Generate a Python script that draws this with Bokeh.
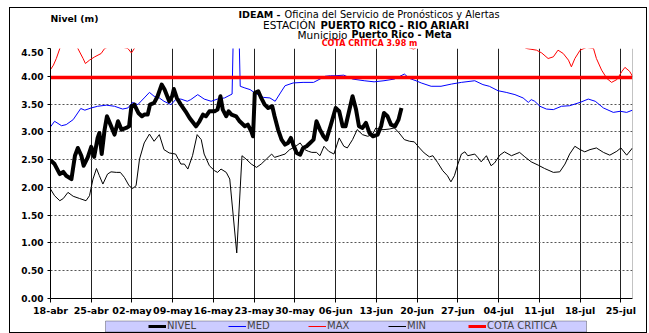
from bokeh.plotting import figure
from bokeh.layouts import column
from bokeh.models import (FixedTicker, NumeralTickFormatter, Label, Legend, LegendItem,
                          Span, Range1d, BoxAnnotation)
from bokeh.embed import file_html
from bokeh.resources import INLINE

# ---- data (x = days since 18-abr) ----
tick_days = [0, 7, 14, 21, 28, 35, 42, 49, 56, 63, 70, 77, 84, 91, 98]
tick_labels = ["18-abr", "25-abr", "02-may", "09-may", "16-may", "23-may", "30-may",
               "06-jun", "13-jun", "20-jun", "27-jun", "04-jul", "11-jul", "18-jul", "25-jul"]
y_ticks = [0.0, 0.5, 1.0, 1.5, 2.0, 2.5, 3.0, 3.5, 4.0, 4.5]

nivel_day = [0, 0.7, 1.6, 2.2, 2.7, 3.6, 4.2, 4.7, 5.3, 5.7, 6.4, 7.0, 7.5, 8.1, 8.4, 8.8, 9.3, 9.7,
             10.3, 11.0, 11.6, 12.2, 13.0, 13.5, 13.9, 14.4, 15.1, 15.7, 16.1, 16.7, 17.1, 17.8,
             18.4, 19.1, 19.6, 20.4, 20.9, 21.2, 21.7, 22.4, 23.2, 23.9, 25.0, 25.6, 26.2, 26.7,
             27.3, 28.2, 28.7, 29.2, 29.6, 30.2, 30.6, 31.1, 31.9, 32.5, 33.4, 33.9, 34.5, 34.8,
             35.1, 35.7, 36.2, 36.8, 37.4, 38.1, 38.5, 39.1, 39.7, 40.3, 40.8, 41.3, 41.7, 42.3,
             42.9, 43.4, 44.0, 44.6, 45.2, 45.7, 46.3, 46.9, 47.4, 48.1, 49.0, 49.6, 50.2, 50.7,
             51.3, 51.9, 52.5, 53.0, 53.6, 54.2, 54.8, 55.4, 56.2, 56.8, 57.3, 57.9, 58.5, 59.2,
             59.8, 60.3]
nivel_m = [2.49, 2.42, 2.24, 2.28, 2.21, 2.15, 2.57, 2.71, 2.57, 2.39, 2.54, 2.73, 2.55, 2.89, 2.98,
           2.60, 3.04, 3.28, 3.13, 2.95, 3.19, 3.04, 3.07, 3.10, 3.46, 3.49, 3.34, 3.28, 3.31, 3.31,
           3.49, 3.52, 3.64, 3.85, 3.76, 3.55, 3.64, 3.77, 3.61, 3.49, 3.37, 3.25, 3.10, 3.19, 3.31,
           3.28, 3.37, 3.37, 3.40, 3.64, 3.40, 3.28, 3.37, 3.31, 3.28, 3.19, 3.10, 3.13, 3.01, 2.92,
           3.70, 3.73, 3.61, 3.49, 3.43, 3.46, 3.28, 3.04, 2.86, 2.77, 2.80, 2.89, 2.77, 2.62, 2.59,
           2.71, 2.74, 2.80, 2.86, 3.19, 3.04, 2.92, 2.86, 3.10, 3.43, 3.37, 3.10, 3.10, 3.37, 3.64,
           3.40, 3.10, 3.07, 3.16, 2.98, 2.92, 2.95, 3.10, 3.34, 3.28, 3.13, 3.10, 3.22, 3.43]

med_day = [0, 0.7, 1.9, 2.7, 3.9, 5.2, 5.9, 7.0, 8.1, 9.6, 11.0, 12.4, 13.3, 14.1, 15.0, 16.1, 17.0,
           17.8, 18.7, 19.5, 20.7, 21.5, 22.4, 23.5, 24.1, 25.3, 26.4, 27.6, 28.7, 29.9, 31.2, 31.5,
           32.3, 32.6, 33.4, 34.3, 35.1, 36.6, 37.7, 38.6, 39.5, 40.3, 41.7, 43.4, 45.2, 46.3, 47.2,
           48.1, 49.0, 50.4, 51.9, 53.9, 55.6, 57.3, 59.1, 60.8, 61.7, 62.8, 63.7, 65.4, 67.1, 68.9,
           70.6, 72.9, 74.3, 75.4, 76.9, 78.3, 79.8, 81.2, 82.1, 82.6, 83.2, 84.1, 85.2, 86.4, 87.8,
           89.2, 91.0, 92.4, 93.6, 95.0, 96.7, 97.9, 99.0, 100]
med_m = [3.09, 3.19, 3.11, 3.13, 3.22, 3.42, 3.39, 3.43, 3.46, 3.48, 3.46, 3.41, 3.43, 3.53, 3.49,
         3.61, 3.71, 3.64, 3.61, 3.55, 3.49, 3.58, 3.59, 3.55, 3.58, 3.67, 3.59, 3.55, 3.59, 3.61,
         3.68, 5.20, 5.20, 3.82, 3.79, 3.76, 3.70, 3.62, 3.61, 3.55, 3.70, 3.83, 3.88, 3.89, 3.89,
         3.95, 4.00, 4.01, 4.01, 4.02, 3.95, 3.92, 3.90, 3.92, 3.95, 4.04, 3.96, 3.92, 3.88, 3.82,
         3.82, 3.86, 3.89, 3.92, 3.85, 3.82, 3.74, 3.71, 3.67, 3.61, 3.53, 3.58, 3.55, 3.46, 3.41,
         3.40, 3.46, 3.47, 3.53, 3.59, 3.55, 3.43, 3.35, 3.37, 3.35, 3.39]

max_day = [0, 0.5, 1.0, 1.6, 2.5, 3.5, 4.7, 5.6, 6.0, 6.7, 7.6, 8.7, 9.3, 10.2, 11.3, 12.5, 13.3,
           13.9, 14.4, 15.5, 18, 22, 26, 30, 34, 38, 42, 46, 50, 54, 58, 60.5, 62.4, 63.5, 66, 70,
           74, 78, 81.8, 83.5, 84.4, 85.5, 86.4, 87.2, 88.1, 89.0, 89.5, 90.1, 91.0, 92.1, 93.3,
           93.8, 94.7, 95.6, 96.4, 97.3, 98.2, 98.7, 99.5, 100]
max_m = [4.12, 4.20, 4.32, 4.50, 4.65, 4.65, 4.50, 4.32, 4.23, 4.29, 4.35, 4.41, 4.50, 4.54, 4.52,
         4.52, 4.50, 4.42, 4.50, 4.62, 4.80, 4.90, 4.85, 4.95, 5.00, 4.90, 4.80, 4.75, 4.80, 4.70,
         4.60, 4.55, 4.49, 4.55, 4.70, 4.80, 4.75, 4.70, 4.50, 4.47, 4.42, 4.32, 4.35, 4.47, 4.41,
         4.29, 4.17, 4.32, 4.47, 4.52, 4.50, 4.32, 4.11, 3.96, 3.89, 3.94, 4.09, 4.16, 4.09, 4.00]

min_day = [0, 0.7, 1.6, 2.2, 3.0, 3.9, 5.0, 6.1, 6.7, 7.3, 7.9, 8.4, 9.0, 9.8, 10.4, 11.3, 12.0, 12.7,
           13.5, 14.1, 14.7, 15.3, 16.1, 17.0, 17.8, 18.7, 19.5, 20.4, 21.5, 22.4, 23.0, 23.6, 24.4,
           25.2, 25.9, 26.4, 27.3, 28.2, 28.7, 29.3, 30.2, 30.8, 32.0, 32.9, 33.6, 34.5, 35.4, 36.2,
           37.1, 38.0, 38.5, 39.4, 40.3, 41.1, 42.0, 42.9, 43.7, 44.3, 44.9, 45.7, 46.3, 47.0, 47.8,
           48.7, 49.6, 50.4, 51.0, 51.9, 52.7, 53.6, 54.5, 55.3, 55.9, 56.5, 57.3, 58.2, 59.1, 59.9,
           60.8, 61.7, 62.5, 63.4, 64.2, 65.1, 65.7, 66.5, 67.4, 68.2, 68.8, 69.4, 70.0, 70.6, 71.2,
           71.7, 72.9, 73.4, 74.0, 74.9, 75.7, 76.3, 77.2, 78.0, 79.2, 80.6, 81.5, 82.6, 83.8, 84.9,
           86.4, 87.5, 88.4, 89.2, 90.1, 91.0, 91.8, 92.7, 93.8, 95.0, 96.1, 97.3, 98.0, 99.0, 100]
min_m = [1.97, 1.85, 1.76, 1.80, 1.91, 1.84, 1.80, 1.76, 1.85, 2.15, 2.34, 2.21, 2.06, 2.24, 2.28,
         2.27, 2.27, 2.18, 2.03, 1.98, 2.03, 2.51, 2.80, 2.96, 2.83, 2.95, 2.68, 2.62, 2.60, 2.42,
         2.42, 2.33, 2.57, 2.95, 2.86, 2.60, 2.39, 2.30, 2.27, 2.33, 2.27, 2.15, 0.82, 2.57, 2.51,
         2.42, 2.36, 2.42, 2.51, 2.60, 2.54, 2.57, 2.60, 2.68, 2.73, 2.80, 2.68, 2.65, 2.63, 2.63,
         2.57, 2.74, 2.65, 2.60, 2.89, 2.74, 2.71, 2.86, 3.04, 2.95, 2.92, 2.95, 3.07, 3.04, 3.04,
         3.05, 3.07, 2.98, 2.86, 2.83, 2.82, 2.71, 2.62, 2.55, 2.57, 2.45, 2.30, 2.21, 2.10, 2.21,
         2.42, 2.60, 2.64, 2.57, 2.60, 2.54, 2.46, 2.57, 2.39, 2.44, 2.58, 2.64, 2.57, 2.63, 2.55,
         2.46, 2.40, 2.34, 2.27, 2.28, 2.42, 2.60, 2.74, 2.68, 2.64, 2.68, 2.71, 2.63, 2.58, 2.65,
         2.71, 2.58, 2.71]

cota_day = [0, 100]
cota_m = [3.98, 3.98]

series_names = ["NIVEL", "MED", "MAX", "MIN", "COTA CRITICA"]
series_colors = ["black", "#0000ff", "#ff0000", "black", "#ff0000"]
series_widths = [4, 1, 1, 1, 3.5]
series_days = [nivel_day, med_day, max_day, min_day, cota_day]
series_vals = [nivel_m, med_m, max_m, min_m, cota_m]

FONT = "DejaVu Sans"
X0, Y0, X1 = 10, 8, 646     # outer chart box (page px)
FL, FR = 50, 632            # plot frame left / right (page px)
BL, BR = FL - X0, X1 - FR   # side borders, identical for the three stacked figures


def strip_fig(h, y_top):
    """Text strip whose data coordinates equal page pixels (frame aligned with the chart)."""
    f = figure(width=X1 - X0, height=h, x_range=Range1d(FL, FR),
               y_range=Range1d(y_top + h, y_top), output_backend="svg",
               toolbar_location=None, x_axis_type=None, y_axis_type=None,
               min_border_left=BL, min_border_right=BR, min_border_top=0, min_border_bottom=0)
    f.outline_line_color = None
    f.grid.visible = False
    return f


# ---------------- title strip ----------------
top = strip_fig(40, Y0)


def lab(x, y, text, bold=False, align="left", size="10px", color="black"):
    top.add_layout(Label(x=x, y=y, text=text, text_font=FONT,
                         text_font_style="bold" if bold else "normal",
                         text_font_size=size, text_color=color, text_align=align,
                         text_baseline="middle"))


lab(50, 17.5, "Nivel (m)", bold=True, size="9.3px")
lab(280, 14.3, "IDEAM -", bold=True, align="right", size="9.5px")
lab(284, 14.3, "Oficina del Servicio de Pronósticos y Alertas", size="9.8px")
lab(315, 24.5, "ESTACIÓN", align="right", size="10.5px")
lab(320, 24.5, "PUERTO RICO  -  RIO ARIARI", bold=True)
lab(347, 34, "Municipio", align="right", size="10.5px")
lab(351, 34, "Puerto Rico - Meta", bold=True, size="9.6px")
lab(369, 42.5, "COTA CRÍTICA 3.98 m", bold=True, align="center", size="8px", color="#ff0000")

# ---------------- main chart ----------------
p = figure(width=X1 - X0, height=270, x_range=Range1d(0, 100), y_range=Range1d(0, 4.5),
           output_backend="svg", toolbar_location=None,
           min_border_left=BL, min_border_right=BR, min_border_top=0, min_border_bottom=20)
p.outline_line_color = None

p.xaxis.ticker = FixedTicker(ticks=tick_days)
p.xaxis.major_label_overrides = {d: t for d, t in zip(tick_days, tick_labels)}
p.yaxis.ticker = FixedTicker(ticks=y_ticks)
p.yaxis.formatter = NumeralTickFormatter(format="0.00")
for ax in (p.xaxis[0], p.yaxis[0]):
    ax.major_label_text_font = FONT
    ax.major_label_text_font_style = "bold"
    ax.major_label_text_color = "black"
    ax.axis_line_color = "black"
    ax.major_tick_line_color = "black"
    ax.minor_tick_line_color = None
    ax.major_tick_in = 0
p.xaxis.major_label_text_font_size = "9.5px"
p.yaxis.major_label_text_font_size = "9px"
p.xaxis.major_tick_out = 4
p.yaxis.major_tick_out = 3
p.xaxis.major_label_standoff = 2
p.yaxis.major_label_standoff = 4

p.xgrid.grid_line_color = "#222222"
p.xgrid.grid_line_width = 1
p.ygrid.grid_line_color = "#555555"
p.ygrid.grid_line_dash = "2 2"
p.ygrid.grid_line_width = 1
p.add_layout(Span(location=100, dimension="height", line_color="#888888", line_width=1))

for i in (2, 1, 3, 4, 0):
    p.line(series_days[i], series_vals[i], line_color=series_colors[i],
           line_width=series_widths[i], line_join="round")

# ---------------- legend strip ----------------
leg = strip_fig(14, 318)
leg.add_layout(BoxAnnotation(left=105, right=586, top=320.5, bottom=331.5,
                             fill_color="#ccccff", fill_alpha=1,
                             line_color="black", line_width=1))
items = []
for i, name in enumerate(series_names):
    # same series drawn in this strip's pixel coordinates: falls outside its view,
    # so only the legend sample of each line is visible
    r = leg.line(series_days[i], series_vals[i], line_color=series_colors[i],
                 line_width=min(series_widths[i], 3))
    items.append(LegendItem(label=name, renderers=[r]))
legend = Legend(items=items, location=(148 - FL, 1), orientation="horizontal",
                background_fill_alpha=0, border_line_color=None,
                glyph_width=18, glyph_height=10, label_standoff=1, label_width=61,
                label_height=10, spacing=0, padding=0, margin=0,
                label_text_font=FONT, label_text_font_size="10px")
leg.add_layout(legend)

layout = column(top, p, leg, spacing=0, margin=(Y0, 0, 0, X0),
                styles={"outline": "1px solid black", "outline-offset": "0px"})

open("out.html", "w").write(file_html(layout, INLINE))
